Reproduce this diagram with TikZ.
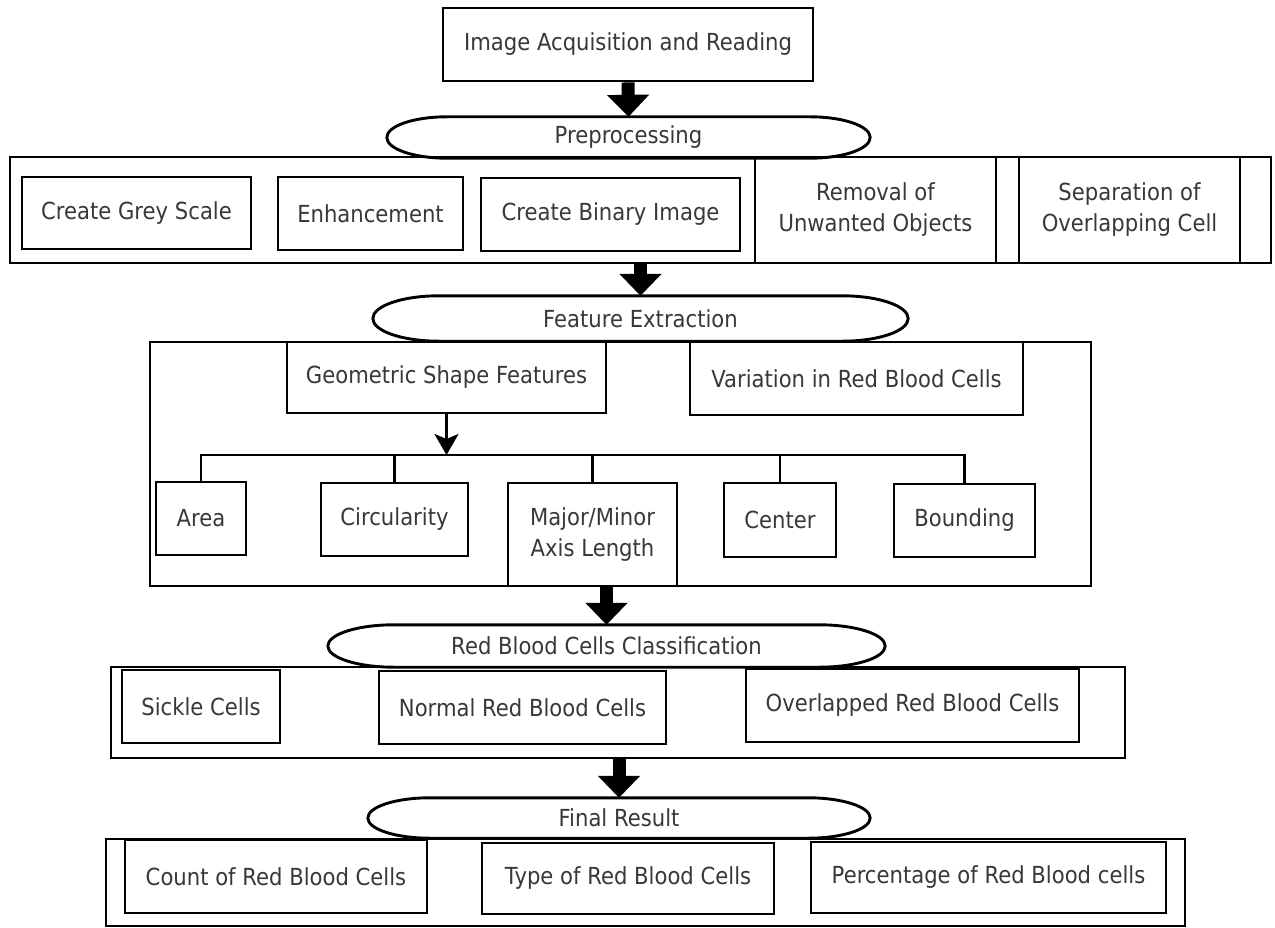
\documentclass[tikz,border=0pt]{standalone}
\usepackage{fontspec}
\setmainfont{DejaVu Sans}[FakeStretch=0.9]
\usetikzlibrary{arrows.meta,calc}
\tikzset{
  lw/.style={line width=2.9pt},
  box/.style={draw, lw, inner sep=0pt, align=center, text=black!78},
  frame/.style={draw, lw, inner sep=0pt},
  term/.style={inner sep=0pt, align=center, text=black!78},
  bigarrow/.style={line width=13pt, -{Triangle[width=41pt,length=22pt]}},
  thinarrow/.style={lw, -{Stealth[length=21pt,width=24pt,inset=5pt]}},
  every node/.style={font=\fontsize{23.5}{31}\selectfont},
}
\newcommand\drawterm[2][55pt]{%
  \path let \p1=(#2.north), \p2=(#2.south), \n1={(\y1-\y2)/2} in
    [draw, lw] ([xshift=#1]#2.north west) -- ([xshift=-#1]#2.north east)
    arc[start angle=90, end angle=-90, x radius=#1, y radius=\n1]
    -- ([xshift=#1]#2.south west)
    arc[start angle=270, end angle=90, x radius=#1, y radius=\n1] -- cycle;}
\begin{document}
\begin{tikzpicture}[x=1pt, y=-1pt]
\useasboundingbox[fill=white] (0,0) rectangle (1275,928);

% top
\node[box, minimum width=370pt, minimum height=73pt] (acq) at (628,44.5) {Image Acquisition and Reading};

% preprocessing
\node[term, minimum width=483pt, minimum height=41pt] (preE) at (628.5,137.5) {Preprocessing};
\node[frame, minimum width=1261pt, minimum height=106pt] (preF) at (640.5,210) {};
\drawterm[60pt]{preE}
\node[box, minimum width=229pt, minimum height=72pt] (grey) at (136.5,213) {Create Grey Scale};
\node[box, minimum width=185pt, minimum height=73pt] (enh) at (370.5,213.5) {Enhancement};
\node[box, minimum width=259pt, minimum height=73pt] (bin) at (610.5,214.5) {Create Binary Image};
\node[box, minimum width=241pt, minimum height=106pt] (rem) at (875.5,210) {Removal of\\Unwanted Objects};
\node[box, minimum width=221pt, minimum height=106pt] (sep) at (1129.5,210) {Separation of\\Overlapping Cell};

% feature extraction
\node[term, minimum width=535pt, minimum height=45pt] (feE) at (640.5,318.5) {Feature Extraction};
\drawterm[66pt]{feE}
\node[frame, minimum width=941pt, minimum height=244pt] (feF) at (620.5,464) {};
\node[box, minimum width=319pt, minimum height=71pt] (geo) at (446.5,377.5) {Geometric Shape Features};
\node[box, minimum width=333pt, minimum height=73pt] (var) at (856.5,378.5) {Variation in Red Blood Cells};
\node[box, minimum width=90pt, minimum height=73pt] (area) at (201,518.5) {Area};
\node[box, minimum width=147pt, minimum height=73pt] (circ) at (394.5,519.5) {Circularity};
\node[box, minimum width=169pt, minimum height=103pt] (major) at (592.5,534.5) {Major/Minor\\Axis Length};
\node[box, minimum width=112pt, minimum height=74pt] (cent) at (780,520) {Center};
\node[box, minimum width=141pt, minimum height=73pt] (bound) at (964.5,520.5) {Bounding};
\coordinate (bus) at (446.5,455);
\draw[thinarrow] (geo.south) -- (geo.south |- bus);
\draw[lw] (area.north) -- (area.north |- bus) -- (bound.north |- bus) -- (bound.north);
\draw[lw] (circ.north) -- (circ.north |- bus);
\draw[lw] (major.north) -- (major.north |- bus);
\draw[lw] (cent.north) -- (cent.north |- bus);

% classification
\node[term, minimum width=557pt, minimum height=42pt] (rbcE) at (606.5,646) {Red Blood Cells Classification};
\drawterm[66pt]{rbcE}
\node[frame, minimum width=1014pt, minimum height=91pt] (rbcF) at (618,712.5) {};
\node[box, minimum width=158pt, minimum height=73pt] (sick) at (201,706.5) {Sickle Cells};
\node[box, minimum width=287pt, minimum height=73pt] (norm) at (522.5,707.5) {Normal Red Blood Cells};
\node[box, minimum width=333pt, minimum height=73pt] (over) at (912.5,705.5) {Overlapped Red Blood Cells};

% final result
\node[term, minimum width=502pt, minimum height=40pt] (finE) at (619,818) {Final Result};
\drawterm[62pt]{finE}
\node[frame, minimum width=1079pt, minimum height=87pt] (finF) at (645.5,882.5) {};
\node[box, minimum width=302pt, minimum height=73pt] (count) at (276,876.5) {Count of Red Blood Cells};
\node[box, minimum width=292pt, minimum height=71pt] (type) at (628,878.5) {Type of Red Blood Cells};
\node[box, minimum width=355pt, minimum height=71pt] (perc) at (988.5,877.5) {Percentage of Red Blood cells};

% big arrows
\draw[bigarrow] (acq.south) -- (preE.north);
\draw[bigarrow] (preF.south) -- (feE.north);
\draw[bigarrow] (feF.south -| rbcE.north) -- (rbcE.north);
\draw[bigarrow] (rbcF.south -| finE.north) -- (finE.north);
\end{tikzpicture}
\end{document}
